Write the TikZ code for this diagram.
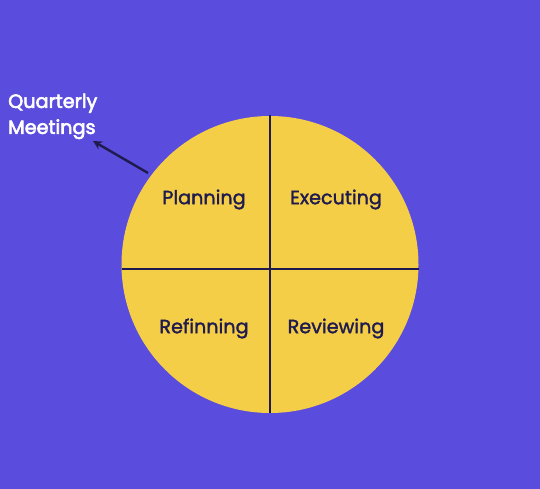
\documentclass[tikz,border=0pt]{standalone}
\usepackage{fontspec}
\setmainfont{Poppins}
\newfontfamily\medfont{Poppins}[FakeBold=1.6]
\newfontfamily\semifont{Poppins}[FakeBold=3]
\usetikzlibrary{arrows.meta}
\definecolor{bgpurple}{HTML}{5A4CDC}
\definecolor{pieyellow}{HTML}{F5CE47}
\definecolor{navy}{HTML}{1F1B4F}
\tikzset{
  quad/.style={text=navy, font=\medfont\fontsize{19.2}{22}\selectfont, inner sep=0pt},
  divider/.style={draw=navy, line width=2.6pt},
  note/.style={text=white, font=\semifont\fontsize{19.2}{26}\selectfont, align=left, inner sep=0pt, anchor=north west}
}
\begin{document}
\begin{tikzpicture}[x=1pt,y=-1pt]
\fill[bgpurple] (0,0) rectangle (540,489);
\useasboundingbox (0,0) rectangle (540,489);
\node[circle, fill=pieyellow, minimum size=297pt, inner sep=0pt] (circ) at (270,264.5) {};
\coordinate (top) at (270,115);
\coordinate (bot) at (270,413);
\coordinate (lft) at (121.5,269);
\coordinate (rgt) at (418.5,269);
\draw[divider] (top) -- (bot);
\draw[divider] (lft) -- (rgt);
\node[quad] (plan) at (204,199.5) {Planning};
\node[quad] (exec) at (336,199.5) {Executing};
\node[quad] (refi) at (204,328.5) {Refinning};
\node[quad] (revi) at (336,328.5) {Reviewing};
\node[note] (qm) at (8,93.5) {Quarterly\\Meetings};
\coordinate (tail) at (148,173);
\coordinate (tip) at (93,141);
\draw[draw=navy, line width=2.4pt, -{Stealth[length=9pt,width=9pt]}] (tail) -- (tip);
\end{tikzpicture}
\end{document}
